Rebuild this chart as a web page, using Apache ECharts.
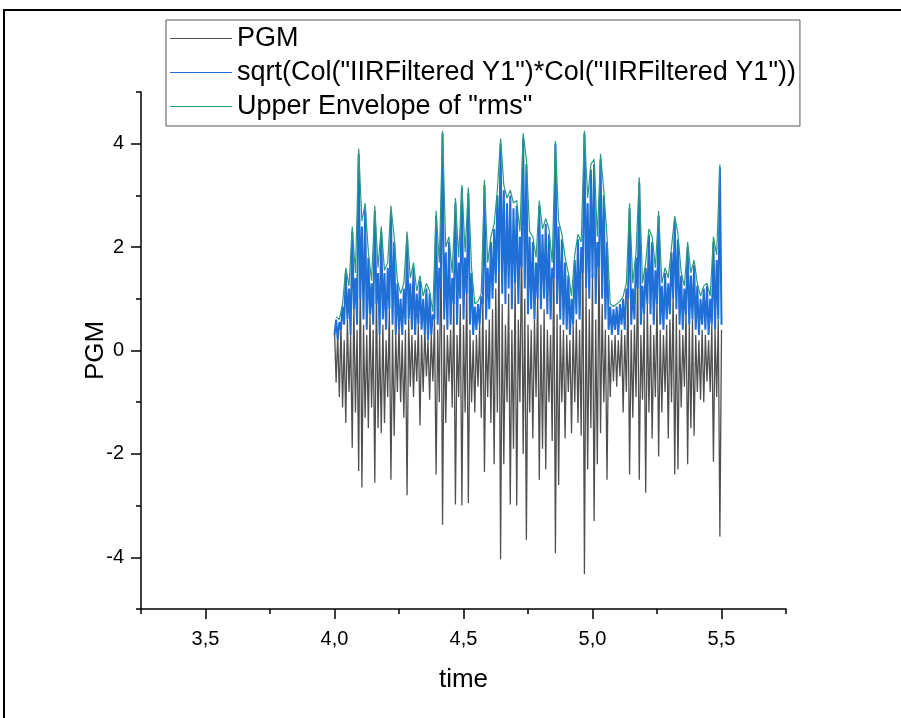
<!DOCTYPE html>
<html><head><meta charset="utf-8">
<script src="https://cdn.jsdelivr.net/npm/echarts@6/dist/echarts.min.js"></script>
<style>html,body{margin:0;padding:0;background:#fff}#c{width:901px;height:718px}</style>
</head><body><div id="c"></div>
<script>
// sampling grid of the recorded signal (time, s)
const T0 = 4.0, DT = 0.00625;
// tick labels
const xMajorTicks = [3.5, 4.0, 4.5, 5.0, 5.5];
const yMajorTicks = [-4, -2, 0, 2, 4];
const seriesNames = ['PGM', 'sqrt(Col("IIRFiltered Y1")*Col("IIRFiltered Y1"))', 'Upper Envelope of "rms"'];

// PGM samples (241 points, 4.0 .. 5.5)
const pgm = [
 0.4,-0.62, 0.3,-0.9, 0.5,-1.1, 0.2,-1.4, 0.6,-0.8, 0.3,-1.88, 0.9,-1.2, 0.4,-2.33, 1.6,-2.65, 0.5,-1.3,
 0.3,-1.5, 0.7,-1.1, 0.4,-2.56, 1.2,-1.5, 0.3,-1.6, 0.5,-1.4, 0.2,-0.9, 0.8,-2.5, 0.4,-1.65, 0.3,-0.8,
 0.5,-1.0, 0.2,-1.3, 0.4,-2.8, 0.6,-0.7, 0.3,-0.9, 0.2,-0.6, 0.5,-1.45, 0.3,-0.8, 0.4,-0.5, 0.2,-0.95,
 0.3,-0.6, 0.6,-2.4, 0.4,-1.0, 2.4,-3.37, 0.5,-1.4, 0.3,-0.6, 0.4,-1.1, 1.1,-2.98, 0.3,-0.9, 0.9,-3.0,
 0.5,-1.2, 1.3,-2.95, 0.4,-1.0, 0.2,-1.2, 0.3,-0.7, 0.5,-1.3, 1.0,-2.35, 0.4,-0.9, 0.6,-1.4, 0.8,-2.2,
 1.2,-1.2, 2.0,-4.04, 0.9,-2.2, 0.5,-1.0, 1.1,-2.98, 0.4,-1.9, 1.4,-3.0, 0.6,-1.0, 2.2,-2.0, 1.0,-3.66,
 0.5,-1.2, 0.4,-1.7, 0.6,-0.9, 1.1,-2.5, 0.5,-1.9, 0.8,-2.3, 0.4,-1.0, 0.3,-1.75, 1.9,-3.92, 0.7,-2.6,
 0.5,-1.0, 0.4,-1.7, 0.3,-0.8, 0.2,-1.6, 0.5,-1.0, 0.6,-1.4, 0.4,-1.65, 2.0,-4.33, 1.2,-2.3, 0.8,-1.5,
 1.5,-3.3, 0.6,-2.2, 1.9,-1.6, 0.9,-1.0, 0.4,-2.5, 0.3,-0.9, 0.2,-0.6, 0.3,-0.7, 0.2,-0.5, 0.4,-1.2,
 0.3,-0.8, 1.2,-2.4, 0.4,-1.3, 0.5,-0.9, 1.6,-2.5, 0.3,-0.95, 0.7,-2.75, 0.9,-1.2, 0.5,-1.7, 0.3,-0.9,
 1.0,-2.05, 0.4,-1.2, 0.3,-0.8, 0.5,-1.7, 0.6,-1.0, 1.1,-2.4, 0.7,-2.3, 0.4,-1.1, 0.3,-0.7, 0.8,-2.2,
 0.5,-1.5, 0.6,-1.65, 0.3,-0.8, 0.2,-0.95, 0.4,-1.0, 0.3,-0.6, 0.2,-0.8, 0.5,-2.15, 0.4,-0.9, 0.6,-3.6,
 0.4
];

// rms = sqrt(filtered^2) samples (241 points, same grid)
const rms = [
 0.3,0.6, 0.2,0.55, 0.4,0.85, 0.5,1.5, 0.6,1.2, 0.3,2.3, 0.8,1.4, 0.5,3.8, 1.0,2.4, 0.6,2.75,
 0.4,1.8, 0.7,1.3, 0.5,2.7, 0.9,1.5, 0.3,2.3, 0.6,1.5, 0.4,1.6, 0.8,2.7, 0.5,2.1, 0.3,1.3,
 0.4,1.0, 0.3,1.2, 0.5,2.2, 0.6,1.3, 0.4,1.6, 0.3,1.1, 0.5,1.35, 0.4,1.0, 0.3,1.2, 0.2,1.1,
 0.3,0.7, 0.6,2.6, 0.5,1.6, 1.2,4.2, 0.6,1.9, 0.4,2.1, 0.5,1.4, 0.9,2.85, 0.5,1.7, 1.0,3.15,
 0.6,1.8, 1.1,3.05, 0.5,1.5, 0.3,0.85, 0.4,0.9, 0.5,1.05, 0.9,3.2, 0.6,1.6, 0.8,2.1, 1.0,2.35,
 1.3,3.0, 1.5,4.0, 1.1,3.1, 0.9,2.85, 1.2,3.0, 0.8,2.75, 1.3,2.8, 0.9,2.2, 1.6,4.1, 1.2,3.6,
 0.7,2.2, 0.8,2.1, 0.6,1.7, 1.0,2.8, 0.8,2.25, 1.0,2.45, 0.7,2.25, 0.6,1.6, 1.4,4.0, 0.9,2.4,
 0.6,2.15, 0.5,1.7, 0.4,1.45, 0.3,1.0, 0.5,1.75, 0.7,2.15, 0.6,2.0, 1.5,4.2, 1.2,2.85, 1.0,3.5,
 1.4,3.6, 0.9,2.1, 1.6,3.7, 1.0,3.0, 0.6,2.1, 0.4,0.85, 0.3,0.8, 0.4,0.85, 0.3,0.9, 0.5,1.0,
 0.4,1.2, 1.0,2.75, 0.5,1.2, 0.6,1.8, 1.2,3.25, 0.5,1.25, 0.7,1.6, 0.9,2.25, 0.7,2.1, 0.5,1.55,
 0.9,2.6, 0.5,1.25, 0.4,1.5, 0.6,1.3, 0.7,1.9, 1.0,2.5, 0.8,2.15, 0.5,1.45, 0.4,1.2, 0.7,2.0,
 0.5,1.45, 0.6,1.65, 0.4,1.25, 0.3,1.0, 0.5,1.2, 0.4,1.25, 0.3,1.0, 0.5,2.1, 0.4,1.75, 0.6,3.55,
 0.5
];

// upper envelope of rms, defined at the rms peak samples (odd samples)
const envelope = [
 0.65,0.6,0.9,1.6,1.25,2.4,1.5,3.9,2.5,2.85,
 1.9,1.35,2.8,1.6,2.4,1.55,1.7,2.8,2.2,1.35,
 1.1,1.3,2.3,1.4,1.7,1.15,1.45,1.05,1.3,1.15,
 0.75,2.7,1.7,4.25,2.0,2.2,1.5,2.95,1.8,3.2,
 1.9,3.15,1.6,0.9,0.95,1.1,3.3,1.7,2.2,2.45,
 3.1,4.1,3.2,2.95,3.1,2.85,2.9,2.3,4.2,3.7,
 2.3,2.2,1.8,2.9,2.35,2.55,2.35,1.7,4.05,2.5,
 2.25,1.8,1.5,1.05,1.85,2.25,2.1,4.25,2.95,3.6,
 3.7,2.2,3.8,3.1,2.2,0.9,0.85,0.9,0.95,1.05,
 1.3,2.85,1.3,1.9,3.35,1.3,1.7,2.35,2.2,1.6,
 2.7,1.3,1.6,1.4,2.0,2.6,2.25,1.5,1.25,2.1,
 1.5,1.75,1.3,1.05,1.25,1.3,1.05,2.2,1.85,3.6
];

const FONT = '"Liberation Sans", Arial, sans-serif';
const pgmData = pgm.map((v, i) => [T0 + i * DT, v]);
const rmsData = rms.map((v, i) => [T0 + i * DT, v]);
const envData = envelope.map((v, k) => [T0 + (2 * k + 1) * DT, v]);
const isMajorX = v => xMajorTicks.some(m => Math.abs(m - v) < 1e-6);
const isMajorY = v => yMajorTicks.some(m => Math.abs(m - v) < 1e-6);

const axisColor = '#000';
const chart = echarts.init(document.getElementById('c'), null, {renderer: 'canvas'});
chart.setOption({
  animation: false,
  backgroundColor: '#fff',
  graphic: [{
    type: 'rect', silent: true, z: 100,
    shape: {x: 4, y: 10, width: 1000, height: 1000},
    style: {fill: 'none', stroke: '#000', lineWidth: 2}
  }],
  legend: {
    orient: 'vertical', left: 166, top: 20,
    data: seriesNames,
    icon: 'rect', itemWidth: 62, itemHeight: 1.2, itemGap: 7,
    textStyle: {fontSize: 27, color: '#000', fontFamily: FONT},
    borderColor: '#555', borderWidth: 1, padding: [5, 4, 6, 4],
    backgroundColor: '#fff', z: 10
  },
  grid: {left: 141, top: 92, right: 115, bottom: 109, containLabel: false},
  xAxis: [{
    type: 'value', min: 3.25, max: 5.75, interval: 0.25, position: 'bottom',
    name: 'time', nameLocation: 'middle', nameGap: 58, nameMoveOverlap: false,
    nameTextStyle: {fontSize: 26, color: '#000', fontFamily: FONT},
    axisLine: {onZero: false, lineStyle: {color: axisColor, width: 1.5}},
    axisTick: {length: 5, lineStyle: {color: axisColor, width: 1.5}},
    axisLabel: {formatter: v => isMajorX(v) ? v.toFixed(1).replace('.', ',') : '',
      fontSize: 20, color: '#000', margin: 20, fontFamily: FONT},
    splitLine: {show: false}
  }, {
    type: 'value', min: 3.25, max: 5.75, position: 'bottom', offset: 0,
    axisLine: {show: false, onZero: false},
    axisTick: {show: true, customValues: xMajorTicks, length: 10, lineStyle: {color: axisColor, width: 1.5}},
    axisLabel: {show: false}, splitLine: {show: false}
  }],
  yAxis: [{
    type: 'value', min: -5, max: 5, interval: 1, position: 'left',
    name: 'PGM', nameLocation: 'middle', nameGap: 32, nameMoveOverlap: false,
    nameTextStyle: {fontSize: 26, color: '#000', fontFamily: FONT},
    axisLine: {show: true, onZero: false, lineStyle: {color: axisColor, width: 1.5}},
    axisTick: {show: true, length: 5, lineStyle: {color: axisColor, width: 1.5}},
    axisLabel: {formatter: v => isMajorY(v) ? String(v) : '',
      fontSize: 20, color: '#000', margin: 17, fontFamily: FONT},
    splitLine: {show: false}
  }, {
    type: 'value', min: -5, max: 5, position: 'left', offset: 0,
    axisLine: {show: false, onZero: false},
    axisTick: {show: true, customValues: yMajorTicks, length: 10, lineStyle: {color: axisColor, width: 1.5}},
    axisLabel: {show: false}, splitLine: {show: false}
  }],
  series: [{
    name: seriesNames[0], type: 'line', data: pgmData, xAxisIndex: 0, yAxisIndex: 0,
    symbol: 'none', showSymbol: false, color: '#505050',
    lineStyle: {width: 1.3, color: '#505050'}, silent: true
  }, {
    name: seriesNames[1], type: 'line', data: rmsData, xAxisIndex: 0, yAxisIndex: 0,
    symbol: 'none', showSymbol: false, color: '#1f6fd6',
    lineStyle: {width: 2, color: '#1f6fd6'}, silent: true
  }, {
    name: seriesNames[2], type: 'line', data: envData, xAxisIndex: 0, yAxisIndex: 0,
    symbol: 'none', showSymbol: false, color: '#2a9a80',
    lineStyle: {width: 1.2, color: '#2a9a80'}, silent: true
  }]
});
</script></body></html>
